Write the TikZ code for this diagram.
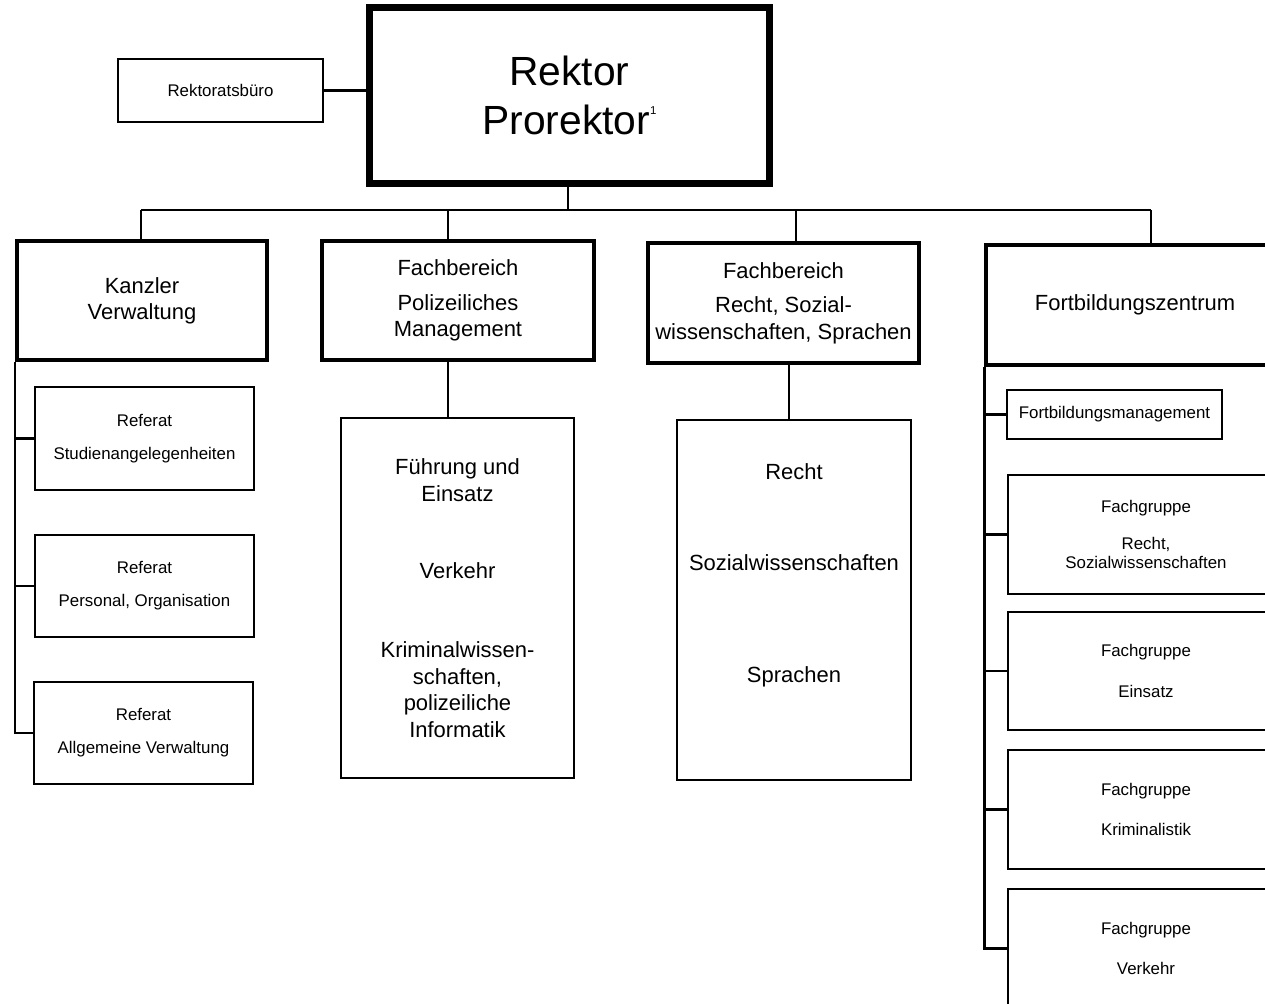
\documentclass[tikz,border=0pt]{standalone}
\usepackage{fontspec}
\setmainfont{Liberation Sans}
\usetikzlibrary{positioning,calc}

\newcommand{\bigsize}{\fontsize{23.2}{28}\selectfont}
\newcommand{\midsize}{\fontsize{12.5}{15}\selectfont}
\newcommand{\smallsize}{\fontsize{9.6}{11}\selectfont}

\tikzset{
  topbox/.style={draw, line width=4pt, font=\bigsize, align=center, inner sep=0pt},
  headbox/.style={draw, line width=1.8pt, font=\midsize, align=center, inner sep=0pt},
  unitbox/.style={draw, line width=1.2pt, font=\midsize, align=center, inner sep=0pt},
  smallbox/.style={draw, line width=1.1pt, font=\smallsize, align=center, inner sep=0pt},
  link/.style={line width=1.2pt},
}

\begin{document}
\begin{tikzpicture}[x=0.02cm, y=-0.02cm]
\useasboundingbox (0,0) rectangle (1265,1004);

% Leitung
\node[topbox, minimum width=8.02cm, minimum height=3.54cm] (rektor) at (569.5,95.5)
  {Rektor\\Prorektor\raisebox{11.2pt}{\fontsize{6.5}{6.5}\selectfont 1}};
\node[smallbox, minimum width=4.1cm, minimum height=1.26cm] (buero) at (220.5,90.5) {Rektoratsbüro};

% Bereiche
\node[headbox, minimum width=5cm, minimum height=2.38cm] (kanzler) at (142,300.5)
  {Kanzler\\Verwaltung};
\node[headbox, minimum width=5.44cm, minimum height=2.38cm] (fbpm) at (458,300.5)
  {Fachbereich\\[4.9pt]Polizeiliches\\Management};
\node[headbox, minimum width=5.42cm, minimum height=2.4cm] (fbrs) at (783.5,303)
  {Fachbereich\\[4.9pt]Recht, Sozial-\\wissenschaften, Sprachen};
\node[headbox, minimum width=5.96cm, minimum height=2.4cm] (fbz) at (1135,305)
  {Fortbildungszentrum};

% Referate
\node[smallbox, minimum width=4.38cm, minimum height=2.06cm] (ref1) at (144.5,438.5)
  {Referat\\[7.8pt]Studienangelegenheiten};
\node[smallbox, minimum width=4.38cm, minimum height=2.04cm] (ref2) at (144.5,586)
  {Referat\\[7.8pt]Personal, Organisation};
\node[smallbox, minimum width=4.38cm, minimum height=2.04cm] (ref3) at (143.5,733)
  {Referat\\[7.8pt]Allgemeine Verwaltung};

% Lehrgebiete
\node[unitbox, minimum width=4.66cm, minimum height=7.2cm] (pmsub) at (457.5,598)
  {Führung und\\Einsatz\\[28.8pt]Verkehr\\[30.5pt]Kriminalwissen-\\schaften,\\polizeiliche\\Informatik};
\node[unitbox, minimum width=4.68cm, minimum height=7.2cm] (rssub) at (794,600) {};
\node[font=\midsize, align=center, inner sep=0pt] (rstxt) at (794,575.5)
  {Recht\\[36.8pt]Sozialwissenschaften\\[48.7pt]Sprachen};

% Fortbildung
\node[smallbox, minimum width=4.3cm, minimum height=0.98cm] (fm) at (1114.5,414.5)
  {Fortbildungsmanagement};
\node[smallbox, minimum width=5.52cm, minimum height=2.38cm] (fg1) at (1146,534.5)
  {Fachgruppe\\[10pt]Recht,\\Sozialwissenschaften};
\node[smallbox, minimum width=5.52cm, minimum height=2.36cm] (fg2) at (1146,671)
  {Fachgruppe\\[12pt]Einsatz};
\node[smallbox, minimum width=5.52cm, minimum height=2.38cm] (fg3) at (1146,809.5)
  {Fachgruppe\\[12pt]Kriminalistik};
\node[smallbox, minimum width=5.52cm, minimum height=2.38cm] (fg4) at (1146,948.5)
  {Fachgruppe\\[12pt]Verkehr};

% Linien
\coordinate (bus) at (568,210);
\coordinate (b1) at (141,210);
\coordinate (b2) at (448,210);
\coordinate (b3) at (796,210);
\coordinate (b4) at (1151,210);
\coordinate (r3) at (789,363);

\draw[link] (buero) -- (buero -| rektor.west);
\draw[link] (rektor.south -| bus) -- (bus);
\draw[link] (b1) -- (b4);
\draw[link] (b1) -- (b1 |- kanzler.north);
\draw[link] (b2) -- (b2 |- fbpm.north);
\draw[link] (b3) -- (b3 |- fbrs.north);
\draw[link] (b4) -- (b4 |- fbz.north);
\draw[link] (b2 |- fbpm.south) -- (b2 |- pmsub.north);
\draw[link] (r3) -- (r3 |- rssub.north);

\draw[link] (kanzler.south west) -- (kanzler.south west |- ref3.west) -- (ref3.west);
\draw[link] (kanzler.south west |- ref1.west) -- (ref1.west);
\draw[link] (kanzler.south west |- ref2.west) -- (ref2.west);

\draw[link] (fbz.south west) -- (fbz.south west |- fg4.west) -- (fg4.west);
\draw[link] (fbz.south west |- fm.west) -- (fm.west);
\draw[link] (fbz.south west |- fg1.west) -- (fg1.west);
\draw[link] (fbz.south west |- fg2.west) -- (fg2.west);
\draw[link] (fbz.south west |- fg3.west) -- (fg3.west);

\end{tikzpicture}
\end{document}
